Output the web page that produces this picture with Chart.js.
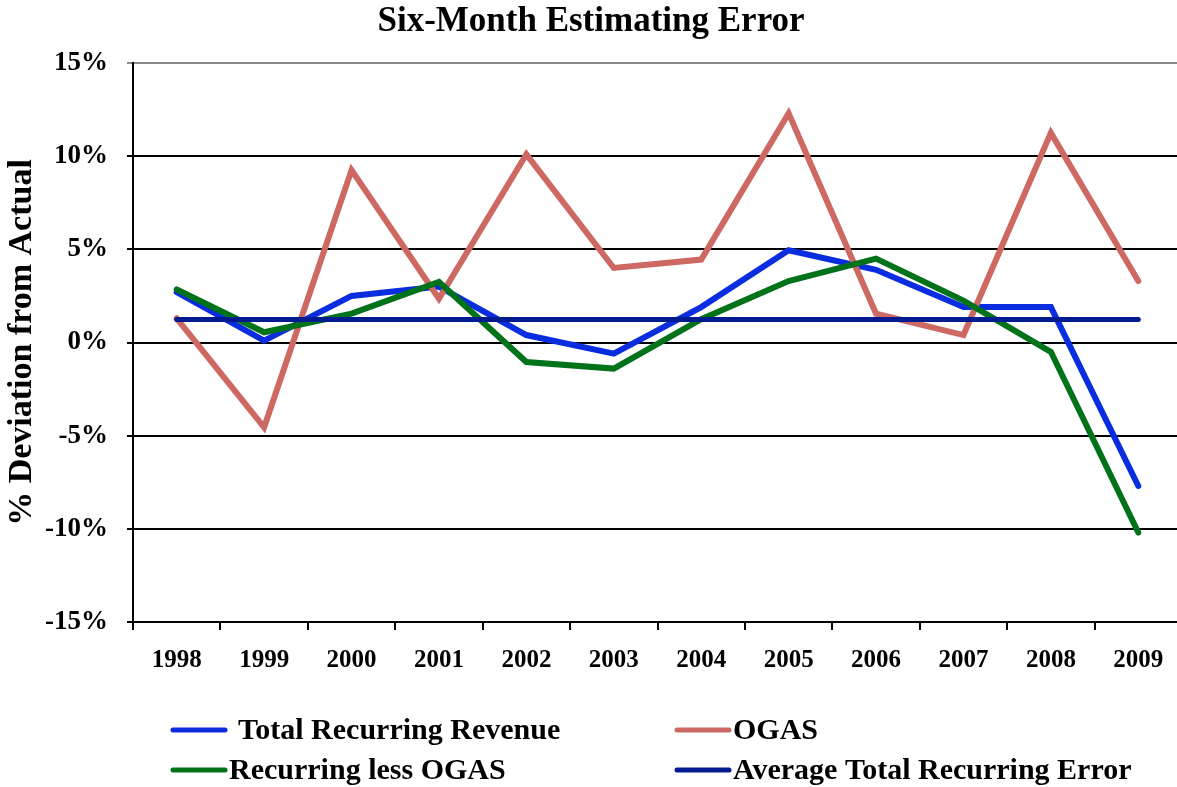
<!DOCTYPE html>
<html>
<head>
<meta charset="utf-8">
<title>Six-Month Estimating Error</title>
<script src="https://cdn.jsdelivr.net/npm/chart.js@4/dist/chart.umd.min.js"></script>
<style>
    html, body { margin: 0; padding: 0; background: #fff; overflow: hidden; }
    #wrap { width: 1177px; height: 787px; overflow: hidden; }
    canvas { display: block; }
</style>
</head>
<body>
<div id="wrap"><canvas id="errorChart" width="1190" height="787"></canvas></div>
<script>
// --- Data ---
const YEARS = ['1998', '1999', '2000', '2001', '2002', '2003', '2004', '2005', '2006', '2007', '2008', '2009'];
const TOTAL_RECURRING = [2.7, 0.1, 2.5, 3.0, 0.4, -0.6, 1.9, 4.95, 3.9, 1.9, 1.9, -7.7];
const OGAS = [1.3, -4.55, 9.25, 2.35, 10.1, 4.0, 4.45, 12.3, 1.55, 0.4, 11.25, 3.3];
const RECURRING_LESS_OGAS = [2.85, 0.55, 1.55, 3.25, -1.05, -1.4, 1.25, 3.3, 4.5, 2.25, -0.5, -10.2];
const AVERAGE_ERROR = [1.23, 1.23, 1.23, 1.23, 1.23, 1.23, 1.23, 1.23, 1.23, 1.23, 1.23, 1.23];
const Y_TICKS = [-15, -10, -5, 0, 5, 10, 15];

const SERIF = '"Liberation Serif", "Times New Roman", serif';

// --- Legend drawn in two columns below the axis ---
const legendGrid = {
    id: 'legendGrid',
    afterDraw(chart) {
        const ctx = chart.ctx;
        const slots = [
            { x: 173, y: 730 }, // Total Recurring Revenue
            { x: 677, y: 730 }, // OGAS
            { x: 173, y: 770 }, // Recurring less OGAS
            { x: 677, y: 770 }  // Average Total Recurring Error
        ];
        ctx.save();
        ctx.font = 'bold 30px ' + SERIF;
        ctx.textBaseline = 'middle';
        chart.data.datasets.forEach((ds, i) => {
            const s = slots[i];
            ctx.strokeStyle = ds.borderColor;
            ctx.lineWidth = 5;
            ctx.lineCap = 'round';
            ctx.beginPath();
            ctx.moveTo(s.x, s.y);
            ctx.lineTo(s.x + 52, s.y);
            ctx.stroke();
            ctx.fillStyle = '#000';
            ctx.fillText(ds.label, s.x + (i === 0 ? 65 : 56), s.y + 1);
        });
        ctx.restore();
    }
};

function criarDataset(label, data, color, width, order) {
    return {
        label: label,
        data: data,
        borderColor: color,
        backgroundColor: color,
        borderWidth: width,
        pointRadius: 0,
        tension: 0,
        borderCapStyle: 'round',
        borderJoinStyle: 'miter',
        order: order
    };
}

const ctx = document.getElementById('errorChart').getContext('2d');
new Chart(ctx, {
    type: 'line',
    data: {
        labels: YEARS,
        datasets: [
            criarDataset('Total Recurring Revenue', TOTAL_RECURRING, '#0a2de0', 6, 3),
            criarDataset('OGAS', OGAS, '#cd6862', 6, 2),
            criarDataset('Recurring less OGAS', RECURRING_LESS_OGAS, '#00721a', 6, 1),
            criarDataset('Average Total Recurring Error', AVERAGE_ERROR, '#001a8f', 5, 0)
        ]
    },
    options: {
        responsive: false,
        animation: false,
        devicePixelRatio: 1,
        layout: { padding: { left: 0, right: 8, top: 0, bottom: 0 } },
        plugins: {
            legend: { display: false },
            tooltip: { enabled: false },
            title: {
                display: true,
                text: 'Six-Month Estimating Error',
                color: '#000',
                font: { family: SERIF, size: 35, weight: 'bold' },
                padding: { top: 1, bottom: 20 }
            }
        },
        scales: {
            x: {
                offset: true,
                afterFit: (scale) => { scale.height = 165; },
                grid: {
                    offset: true,
                    drawOnChartArea: false,
                    drawTicks: true,
                    tickLength: 8,
                    color: '#000',
                    lineWidth: 2
                },
                border: { display: true, color: '#000', width: 2 },
                ticks: {
                    color: '#000',
                    padding: 16,
                    maxRotation: 0,
                    font: { family: SERIF, size: 25, weight: 'bold' }
                }
            },
            y: {
                min: -15,
                max: 15,
                afterFit: (scale) => { scale.width = 133; },
                afterBuildTicks: (scale) => { scale.ticks = Y_TICKS.map(v => ({ value: v })); },
                grid: {
                    color: (c) => (c.tick && c.tick.value === 15 ? '#8a8a8a' : '#000'),
                    lineWidth: 2,
                    tickLength: 6
                },
                border: { display: true, color: '#000', width: 2 },
                ticks: {
                    color: '#000',
                    padding: 19,
                    font: { family: SERIF, size: 27, weight: 'bold' },
                    callback: (v) => v + '%'
                },
                title: {
                    display: true,
                    text: '% Deviation from Actual',
                    color: '#000',
                    padding: { top: 2, bottom: 0 },
                    font: { family: SERIF, size: 34, weight: 'bold' }
                }
            }
        }
    },
    plugins: [legendGrid]
});
</script>
</body>
</html>
